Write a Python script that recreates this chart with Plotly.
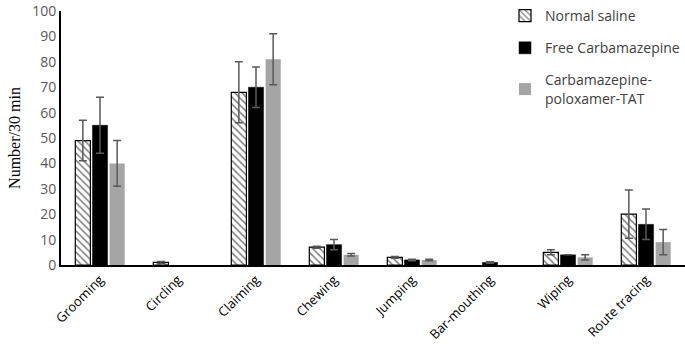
import plotly.graph_objects as go

categories = ["Grooming", "Circling", "Claiming", "Chewing", "Jumping",
              "Bar-mouthing", "Wiping", "Route tracing"]
normal_saline = [49, 1, 68, 7, 3, 0, 5, 20]
normal_saline_err = [8, 0.4, 12, 0.4, 0.3, 0, 1, 9.5]
free_cbz = [55, 0, 70, 8, 2, 1, 4, 16]
free_cbz_err = [11, 0, 8, 2, 0.3, 0.3, 0, 6]
cbz_ptat = [40, 0, 81, 4, 2, 0, 3, 9]
cbz_ptat_err = [9, 0, 10, 0.5, 0.3, 0, 1, 5]
y_ticks = list(range(0, 101, 10))


def nz(vals):
    # zero-height bars are not drawn at all in the reference
    return [v if v != 0 else None for v in vals]


err_style = dict(type="data", color="#595959", thickness=1.5, width=4)

fig = go.Figure()
fig.add_trace(go.Bar(
    x=categories, y=nz(normal_saline), name="Normal saline",
    error_y=dict(array=normal_saline_err, **err_style),
    marker=dict(color="white", line=dict(color="black", width=1.2),
                pattern=dict(shape="\\", fgcolor="black", bgcolor="white",
                             size=5, solidity=0.3)),
    legendgroup="a"))
fig.add_trace(go.Bar(
    x=categories, y=nz(free_cbz), name="Free Carbamazepine",
    error_y=dict(array=free_cbz_err, **err_style),
    marker=dict(color="black", line=dict(color="black", width=0.5)),
    legendgroup="b"))
fig.add_trace(go.Bar(
    x=categories, y=nz(cbz_ptat), name="Carbamazepine-<br>poloxamer-TAT",
    error_y=dict(array=cbz_ptat_err, **err_style),
    marker=dict(color="#a5a5a5", line=dict(width=0)),
    legendgroup="c"))

fig.update_layout(
    width=685, height=348,
    margin=dict(l=61, r=0, t=5, b=83),
    paper_bgcolor="white", plot_bgcolor="white",
    barmode="group", bargap=0.34, bargroupgap=0.12,
    font=dict(family="Open Sans, Liberation Sans, sans-serif", color="#595959"),
    showlegend=True,
    legend=dict(x=1.0, y=1.045, xanchor="right", yanchor="top",
                font=dict(size=14, color="#404040"),
                tracegroupgap=11, bgcolor="rgba(0,0,0,0)",
                itemwidth=30),
    xaxis=dict(showline=True, linecolor="black", linewidth=2,
               tickangle=-45, ticks="", tickfont=dict(size=13, color="black"),
               showgrid=False),
    yaxis=dict(range=[0, 100], tickvals=y_ticks, showline=True,
               linecolor="black", linewidth=2, ticks="", showgrid=False,
               zeroline=False, tickfont=dict(size=14, color="#595959"),
               ticklabeloverflow="allow",
               title=dict(text="Number/30 min", standoff=8,
                          font=dict(family="Liberation Serif, serif",
                                    size=16, color="black"))),
)

fig.write_html("out.html")
